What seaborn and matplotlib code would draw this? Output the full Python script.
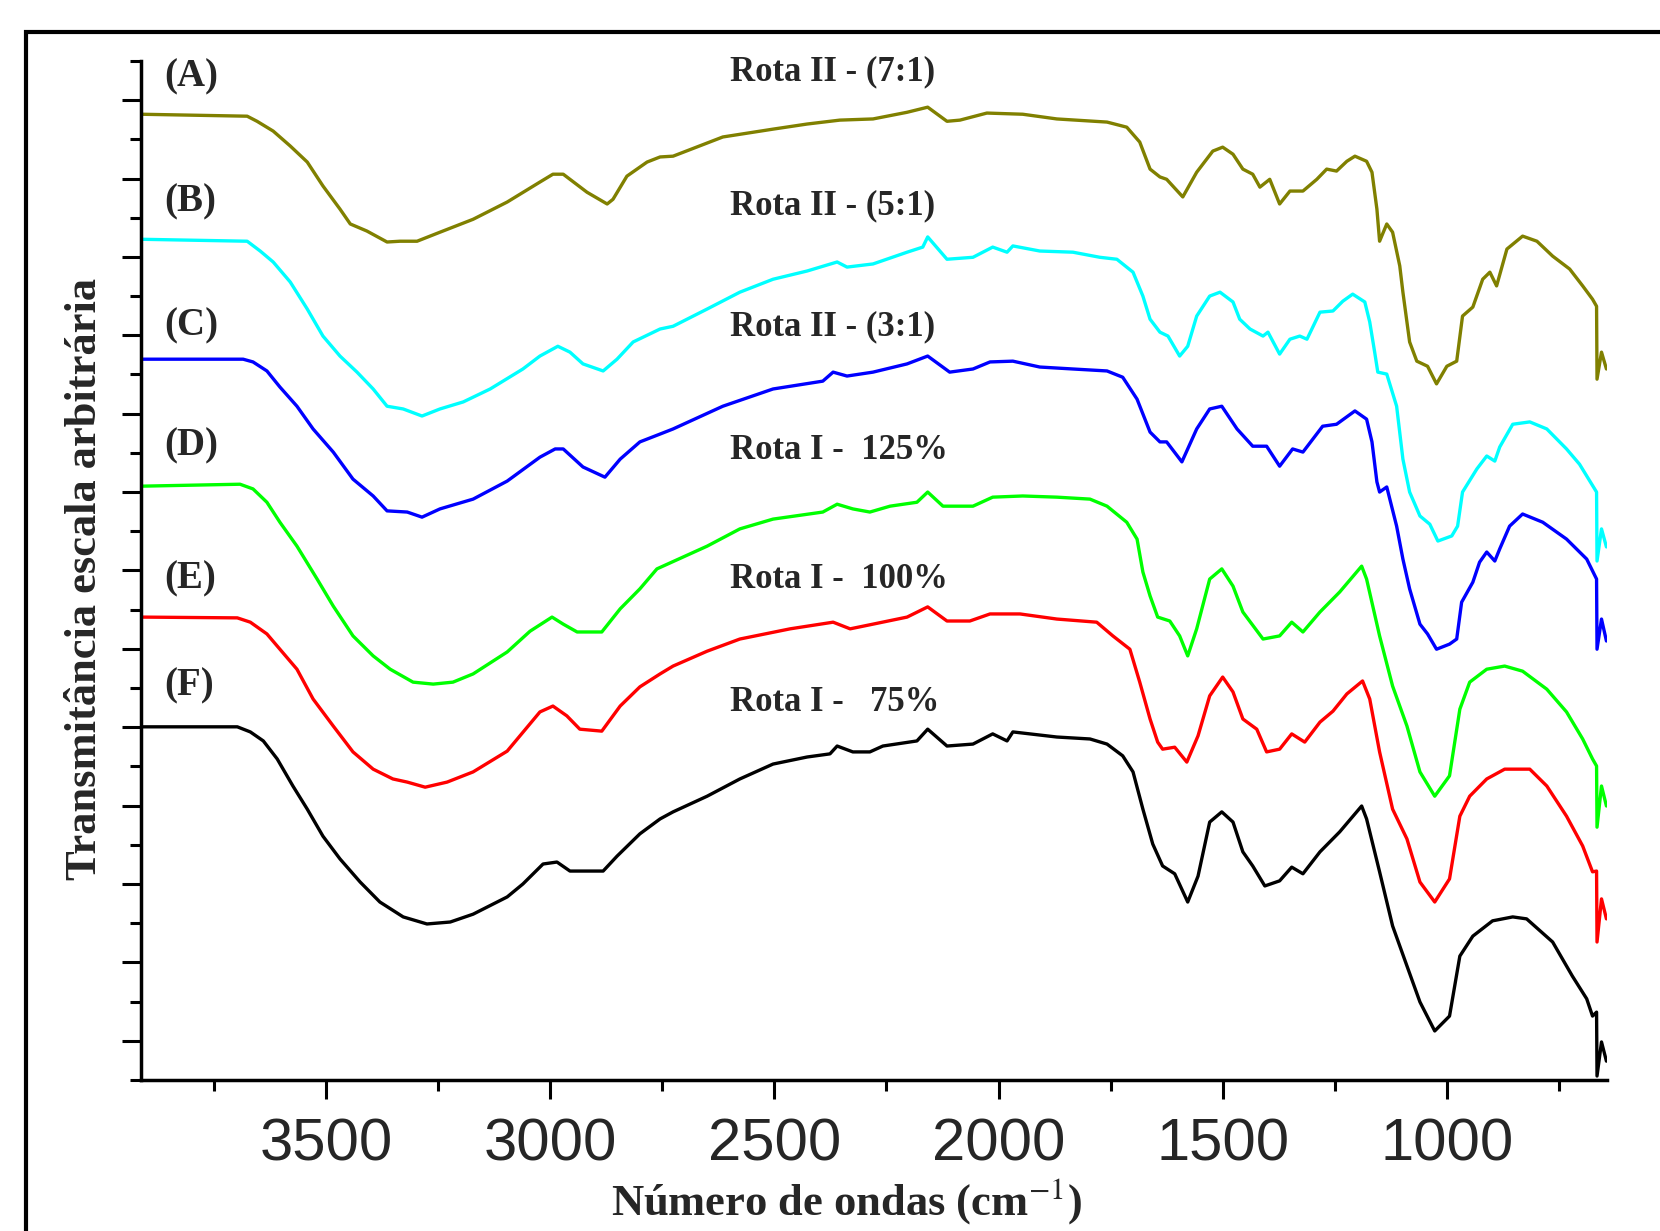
import matplotlib
matplotlib.use("Agg")
import matplotlib.pyplot as plt
from matplotlib.patches import Rectangle
import seaborn as sns

# FTIR spectra (wavenumber in cm-1, transmittance in arbitrary offset units)
wn_a = [3913, 3676, 3654, 3618, 3580, 3542, 3507, 3469, 3446, 3409, 3364, 3335, 3297, 3246, 3172, 3096,
        3023, 2994, 2971, 2918, 2873, 2860, 2829, 2784, 2755, 2726, 2615, 2503, 2427, 2354, 2280, 2204,
        2158, 2115, 2086, 2026, 1946, 1870, 1758, 1714, 1685, 1662, 1640, 1625, 1589, 1558, 1522, 1500,
        1477, 1455, 1433, 1417, 1395, 1373, 1350, 1321, 1290, 1268, 1246, 1223, 1205, 1179, 1167, 1156,
        1150, 1134, 1121, 1105, 1098, 1083, 1067, 1043, 1023, 1000, 978, 965, 942, 920, 904, 889, 866,
        831, 799, 764, 726, 697, 675, 666, 665, 655, 644]
t_a = [24.64, 24.59, 24.46, 24.21, 23.83, 23.42, 22.81, 22.22, 21.84, 21.66, 21.38, 21.40, 21.40, 21.63,
       21.96, 22.40, 22.91, 23.11, 23.11, 22.65, 22.35, 22.47, 23.06, 23.42, 23.55, 23.57, 24.06, 24.26,
       24.39, 24.49, 24.52, 24.69, 24.82, 24.46, 24.49, 24.67, 24.64, 24.52, 24.44, 24.31, 23.93, 23.24,
       23.04, 22.98, 22.53, 23.16, 23.70, 23.80, 23.62, 23.24, 23.11, 22.78, 22.98, 22.35, 22.68, 22.68,
       22.98, 23.24, 23.19, 23.44, 23.57, 23.44, 23.16, 22.22, 21.40, 21.84, 21.63, 20.77, 20.10, 18.83,
       18.34, 18.21, 17.76, 18.21, 18.34, 19.49, 19.72, 20.43, 20.61, 20.26, 21.20, 21.53, 21.40, 21.02,
       20.69, 20.26, 19.92, 19.74, 17.88, 18.57, 18.14]

wn_b = [3913, 3676, 3647, 3618, 3580, 3542, 3507, 3469, 3431, 3395, 3364, 3328, 3286, 3246, 3194, 3134,
        3061, 3023, 2983, 2956, 2927, 2882, 2851, 2815, 2755, 2726, 2650, 2577, 2503, 2427, 2360, 2338,
        2280, 2204, 2169, 2158, 2115, 2057, 2013, 1981, 1968, 1908, 1834, 1774, 1736, 1700, 1678, 1662,
        1640, 1622, 1596, 1578, 1558, 1529, 1506, 1477, 1462, 1439, 1410, 1399, 1373, 1350, 1328, 1312,
        1283, 1254, 1232, 1210, 1183, 1172, 1161, 1154, 1134, 1112, 1098, 1083, 1060, 1038, 1020, 989,
        976, 965, 933, 911, 893, 882, 853, 815, 777, 733, 704, 681, 666, 665, 655, 644]
t_b = [21.45, 21.40, 21.15, 20.87, 20.36, 19.67, 18.98, 18.47, 18.06, 17.63, 17.19, 17.12, 16.94, 17.12,
       17.30, 17.63, 18.14, 18.47, 18.72, 18.57, 18.27, 18.09, 18.39, 18.83, 19.16, 19.23, 19.67, 20.10,
       20.43, 20.64, 20.87, 20.74, 20.82, 21.12, 21.25, 21.51, 20.94, 20.99, 21.25, 21.12, 21.28, 21.15,
       21.12, 20.99, 20.94, 20.61, 20.00, 19.41, 19.08, 18.98, 18.47, 18.72, 19.49, 20.00, 20.10, 19.85,
       19.41, 19.16, 18.98, 19.08, 18.52, 18.90, 18.98, 18.90, 19.59, 19.62, 19.87, 20.05, 19.85, 19.34,
       18.57, 18.06, 18.01, 17.19, 15.84, 15.00, 14.39, 14.18, 13.75, 13.88, 14.13, 15.00, 15.59, 15.92,
       15.79, 16.15, 16.73, 16.79, 16.61, 16.10, 15.71, 15.28, 15.00, 13.24, 14.06, 13.60]

wn_c = [3913, 3685, 3663, 3632, 3603, 3565, 3529, 3484, 3440, 3395, 3364, 3319, 3286, 3246, 3172, 3096,
        3023, 2989, 2971, 2927, 2878, 2844, 2800, 2755, 2726, 2615, 2503, 2392, 2369, 2338, 2280, 2204,
        2158, 2109, 2057, 2019, 1968, 1908, 1834, 1758, 1723, 1691, 1662, 1640, 1625, 1591, 1558, 1529,
        1502, 1468, 1433, 1402, 1373, 1344, 1321, 1277, 1246, 1205, 1179, 1167, 1156, 1150, 1134, 1112,
        1098, 1083, 1060, 1043, 1023, 994, 978, 967, 942, 927, 911, 893, 882, 860, 831, 786, 733, 688,
        666, 665, 655, 644]
t_c = [18.39, 18.39, 18.32, 18.09, 17.68, 17.19, 16.61, 16.02, 15.33, 14.90, 14.52, 14.49, 14.36, 14.57,
       14.82, 15.28, 15.89, 16.10, 16.10, 15.64, 15.38, 15.84, 16.28, 16.48, 16.61, 17.19, 17.63, 17.83,
       18.06, 17.96, 18.06, 18.27, 18.47, 18.06, 18.14, 18.32, 18.34, 18.19, 18.14, 18.09, 17.93, 17.37,
       16.53, 16.28, 16.28, 15.77, 16.61, 17.12, 17.19, 16.61, 16.17, 16.17, 15.66, 16.10, 16.02, 16.68,
       16.73, 17.07, 16.86, 16.28, 15.26, 15.00, 15.13, 14.13, 13.29, 12.53, 11.63, 11.38, 10.99, 11.12,
       11.25, 12.19, 12.70, 13.21, 13.47, 13.24, 13.55, 14.13, 14.44, 14.23, 13.80, 13.29, 12.78, 10.99,
       11.76, 11.20]

wn_d = [3913, 3692, 3663, 3632, 3603, 3565, 3520, 3484, 3440, 3395, 3357, 3306, 3261, 3217, 3172, 3096,
        3045, 2996, 2971, 2940, 2885, 2844, 2800, 2762, 2650, 2577, 2503, 2392, 2360, 2325, 2287, 2242,
        2182, 2158, 2124, 2057, 2013, 1946, 1870, 1796, 1758, 1714, 1691, 1678, 1662, 1645, 1618, 1596,
        1578, 1558, 1529, 1502, 1477, 1455, 1410, 1373, 1346, 1321, 1283, 1239, 1190, 1179, 1150, 1121,
        1089, 1060, 1027, 994, 971, 949, 911, 871, 831, 777, 733, 697, 675, 666, 665, 655, 644]
t_d = [15.15, 15.20, 15.08, 14.74, 14.23, 13.62, 12.78, 12.09, 11.33, 10.82, 10.48, 10.15, 10.10, 10.15,
       10.36, 10.92, 11.45, 11.81, 11.63, 11.43, 11.43, 12.02, 12.53, 13.04, 13.62, 14.06, 14.31, 14.49,
       14.69, 14.57, 14.49, 14.64, 14.74, 15.00, 14.64, 14.64, 14.87, 14.90, 14.87, 14.82, 14.64, 14.23,
       13.80, 12.96, 12.35, 11.81, 11.71, 11.33, 10.82, 11.51, 12.78, 13.04, 12.60, 11.94, 11.25, 11.33,
       11.68, 11.43, 11.94, 12.45, 13.11, 12.78, 11.33, 10.05, 9.03, 7.86, 7.24, 7.76, 9.46, 10.15, 10.48,
       10.56, 10.43, 9.97, 9.39, 8.70, 8.19, 8.01, 6.45, 7.50, 6.99]

wn_e = [3913, 3698, 3669, 3632, 3603, 3565, 3529, 3484, 3440, 3395, 3351, 3319, 3279, 3230, 3172, 3096,
        3023, 2994, 2963, 2934, 2885, 2844, 2800, 2755, 2726, 2650, 2577, 2465, 2369, 2331, 2280, 2204,
        2158, 2115, 2064, 2019, 1952, 1870, 1781, 1745, 1707, 1685, 1662, 1645, 1634, 1607, 1580, 1555,
        1529, 1500, 1477, 1455, 1424, 1402, 1373, 1346, 1317, 1283, 1254, 1223, 1188, 1172, 1150, 1121,
        1089, 1060, 1027, 994, 971, 949, 911, 871, 815, 777, 733, 697, 675, 666, 665, 655, 644]
t_e = [11.81, 11.79, 11.68, 11.38, 10.99, 10.48, 9.72, 9.03, 8.37, 7.93, 7.68, 7.60, 7.47, 7.60, 7.86,
       8.39, 9.39, 9.54, 9.29, 8.95, 8.90, 9.54, 10.03, 10.36, 10.56, 10.94, 11.25, 11.51, 11.68, 11.51,
       11.63, 11.81, 12.07, 11.71, 11.71, 11.89, 11.89, 11.76, 11.68, 11.33, 10.99, 10.15, 9.21, 8.62,
       8.44, 8.49, 8.11, 8.78, 9.80, 10.28, 9.90, 9.21, 8.95, 8.37, 8.44, 8.83, 8.62, 9.13, 9.41, 9.85,
       10.18, 9.72, 8.37, 6.91, 6.15, 5.05, 4.54, 5.13, 6.73, 7.24, 7.68, 7.93, 7.93, 7.50, 6.73, 5.97,
       5.31, 5.33, 3.52, 4.62, 4.11]

wn_f = [3913, 3698, 3669, 3640, 3609, 3574, 3542, 3507, 3469, 3424, 3380, 3328, 3275, 3223, 3172, 3096,
        3061, 3016, 2985, 2956, 2882, 2851, 2800, 2755, 2726, 2650, 2577, 2503, 2427, 2376, 2360, 2325,
        2287, 2258, 2182, 2158, 2115, 2057, 2013, 1981, 1968, 1870, 1796, 1758, 1723, 1700, 1678, 1656,
        1634, 1607, 1578, 1555, 1529, 1502, 1477, 1455, 1433, 1406, 1373, 1346, 1321, 1283, 1239, 1190,
        1179, 1150, 1121, 1089, 1060, 1027, 994, 971, 942, 898, 853, 822, 764, 720, 688, 675, 666, 665,
        655, 644]
t_f = [9.01, 9.01, 8.88, 8.65, 8.19, 7.50, 6.91, 6.22, 5.64, 5.05, 4.54, 4.16, 3.98, 4.03, 4.23, 4.67,
       5.00, 5.51, 5.56, 5.33, 5.33, 5.71, 6.28, 6.66, 6.84, 7.24, 7.68, 8.06, 8.24, 8.32, 8.52, 8.37,
       8.37, 8.52, 8.65, 8.95, 8.52, 8.57, 8.83, 8.65, 8.88, 8.75, 8.70, 8.57, 8.27, 7.86, 6.91, 6.02,
       5.46, 5.26, 4.54, 5.20, 6.58, 6.84, 6.58, 5.82, 5.46, 4.95, 5.08, 5.43, 5.26, 5.82, 6.33, 6.99,
       6.66, 5.31, 3.93, 2.91, 1.99, 1.25, 1.63, 3.16, 3.67, 4.06, 4.16, 4.11, 3.52, 2.65, 2.07, 1.63,
       1.73, 0.10, 0.97, 0.48]

panel_tags = ["(A)", "(B)", "(C)", "(D)", "(E)", "(F)"]
sample_names = ["Rota II - (7:1)", "Rota II - (5:1)", "Rota II - (3:1)",
                "Rota I -  125%", "Rota I -  100%", "Rota I -   75%"]
colors = ["#808000", "#00FFFF", "#0000FF", "#00FF00", "#FF0000", "#000000"]
tag_y = [25.59, 22.40, 19.23, 16.17, 12.78, 10.05]
name_y = [25.71, 22.30, 19.21, 16.05, 12.78, 9.64]

spectra = [(wn_a, t_a), (wn_b, t_b), (wn_c, t_c), (wn_d, t_d), (wn_e, t_e), (wn_f, t_f)]

sns.set_style("ticks")
plt.rcParams["mathtext.fontset"] = "stix"
serif = ["Liberation Serif", "DejaVu Serif"]
sans = ["Liberation Sans", "DejaVu Sans"]

fig = plt.figure(figsize=(16.6, 12.31), dpi=100)
ax = fig.add_axes([0.0849, 0.1227, 0.8831, 0.8278])

for (wn, t), c in zip(spectra, colors):
    sns.lineplot(x=wn, y=t, ax=ax, color=c, lw=2.4, sort=False, estimator=None)

ax.set_xlim(3913, 643)
ax.set_ylim(0, 26)
ax.set_xticks([3500, 3000, 2500, 2000, 1500, 1000])
ax.set_xticks([3750, 3250, 2750, 2250, 1750, 1250, 750], minor=True)
ax.set_yticks(range(1, 26, 2))
ax.set_yticks(range(0, 27, 2), minor=True)
ax.set_yticklabels([])
ax.set_xlabel("")
ax.set_ylabel("")
for lab in ax.get_xticklabels():
    lab.set_family(sans)
    lab.set_fontsize(43)

for s in ["top", "right"]:
    ax.spines[s].set_visible(False)
for s in ["left", "bottom"]:
    ax.spines[s].set_linewidth(2.5)
    ax.spines[s].set_color("black")
ax.tick_params(which="major", direction="out", length=14, width=2.2, color="black", pad=13)
ax.tick_params(which="minor", direction="out", length=8, width=2.2, color="black")

for tag, ty in zip(panel_tags, tag_y):
    ax.text(3862, ty, tag, family=serif, weight="bold", fontsize=28, ha="left", va="center")
for name, ny in zip(sample_names, name_y):
    ax.text(2600, ny, name, family=serif, weight="bold", fontsize=25, ha="left", va="center")

fig.text(0.510, 0.024, "Número de ondas (cm$^{-1}$)", family=serif, weight="bold",
         fontsize=32, ha="center", va="center")
fig.text(0.0512, 0.5296, "Transmitância escala arbitrária", family=serif, weight="bold",
         fontsize=32, rotation=90, ha="center", va="center")

# outer frame of the original figure (cut at right and bottom)
fig.patches.append(Rectangle((0.0157, -0.2), 1.2, 1.174, transform=fig.transFigure,
                             fill=False, lw=3, ec="black", clip_on=False))

fig.savefig("out.png", dpi=100)
